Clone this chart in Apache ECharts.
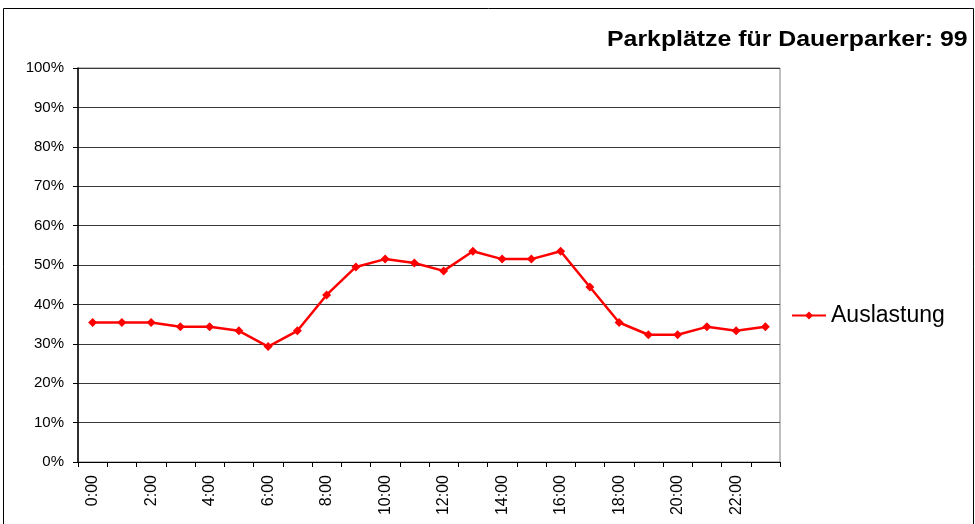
<!DOCTYPE html>
<html>
<head>
<meta charset="utf-8">
<script src="https://cdn.jsdelivr.net/npm/echarts@6/dist/echarts.min.js"></script>
<style>
html,body{margin:0;padding:0;background:#fff;}
#main{width:975px;height:524px;}
</style>
</head>
<body>
<div id="main"></div>
<script>
// Stunden 0:00 .. 23:00
var stunden=['0:00','1:00','2:00','3:00','4:00','5:00','6:00','7:00','8:00','9:00','10:00','11:00',
	'12:00','13:00','14:00','15:00','16:00','17:00','18:00','19:00','20:00','21:00','22:00','23:00'];
// Auslastung in % (belegte Plaetze / 99)
var auslastung=[35.4,35.4,35.4,34.3,34.3,33.3,29.3,33.3,42.4,49.5,51.5,50.5,
	48.5,53.5,51.5,51.5,53.5,44.4,35.4,32.3,32.3,34.3,33.3,34.3];
var titel='Parkplätze für Dauerparker: 99';

var myChart=echarts.init(document.getElementById('main'),null,{renderer:'canvas'});
var option={
	backgroundColor:'#fff',
	animation:false,
	graphic:[
		{type:'rect',shape:{x:3.5,y:8.5,width:970,height:600},style:{fill:'none',stroke:'#000',lineWidth:1}},
		{type:'text',x:607,y:40,scaleX:1.13,style:{text:titel,font:'bold 22px "Liberation Sans", Arial',fill:'#000',textVerticalAlign:'middle'}}
	],
	legend:{
		left:786,top:299,orient:'vertical',
		itemWidth:34,itemHeight:10,itemGap:5,
		textStyle:{fontFamily:'Liberation Sans',fontSize:23,color:'#000'},
		data:['Auslastung']
	},
	grid:{left:78,right:195,top:68,bottom:62,show:true,borderColor:'#808080',borderWidth:1},
	xAxis:{
		type:'category',
		data:stunden,
		boundaryGap:true,
		axisLine:{lineStyle:{color:'#000',width:1}},
		axisTick:{show:true,interval:0,length:5,lineStyle:{color:'#000'}},
		axisLabel:{interval:1,rotate:90,margin:13,fontFamily:'Liberation Sans',fontSize:16,color:'#000'}
	},
	yAxis:{
		type:'value',
		min:0,max:100,interval:10,
		axisLine:{show:true,lineStyle:{color:'#000',width:1.5}},
		axisTick:{show:true,length:5,lineStyle:{color:'#000'}},
		axisLabel:{formatter:'{value}%',margin:14,fontFamily:'Liberation Sans',fontSize:15,color:'#000'},
		splitLine:{show:true,lineStyle:{color:'#3a3a3a',width:1}}
	},
	series:[{
		name:'Auslastung',
		type:'line',
		data:auslastung,
		symbol:'diamond',
		symbolSize:9,
		itemStyle:{color:'#ff0000'},
		lineStyle:{color:'#ff0000',width:2.5}
	}]
};
myChart.setOption(option);
</script>
</body>
</html>
